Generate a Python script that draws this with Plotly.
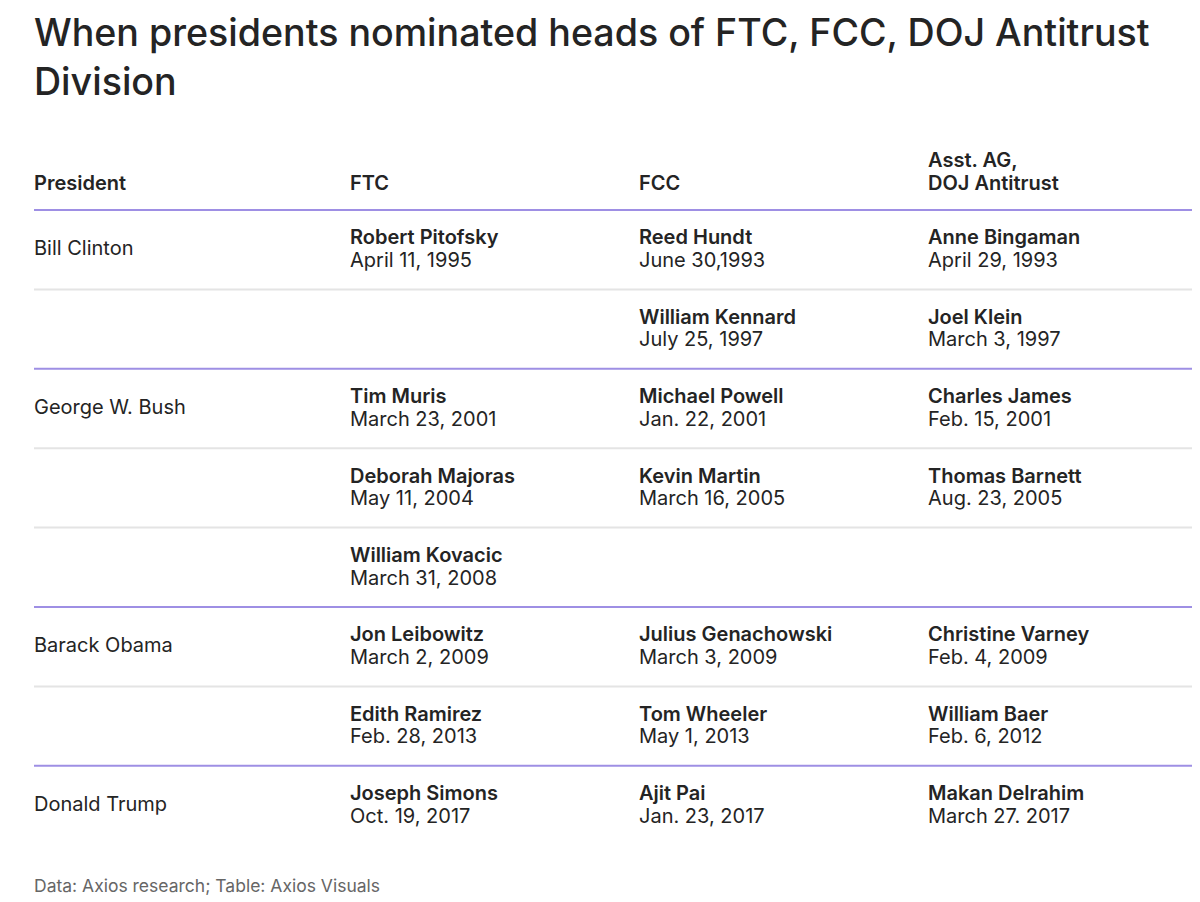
import plotly.graph_objects as go

# table content, one entry per table row
presidents = ["Bill Clinton", "", "George W. Bush", "", "", "Barack Obama", "", "Donald Trump"]
ftc_names = ["Robert Pitofsky", "", "Tim Muris", "Deborah Majoras", "William Kovacic",
             "Jon Leibowitz", "Edith Ramirez", "Joseph Simons"]
ftc_dates = ["April 11, 1995", "", "March 23, 2001", "May 11, 2004", "March 31, 2008",
             "March 2, 2009", "Feb. 28, 2013", "Oct. 19, 2017"]
fcc_names = ["Reed Hundt", "William Kennard", "Michael Powell", "Kevin Martin", "",
             "Julius Genachowski", "Tom Wheeler", "Ajit Pai"]
fcc_dates = ["June 30,1993", "July 25, 1997", "Jan. 22, 2001", "March 16, 2005", "",
             "March 3, 2009", "May 1, 2013", "Jan. 23, 2017"]
doj_names = ["Anne Bingaman", "Joel Klein", "Charles James", "Thomas Barnett", "",
             "Christine Varney", "William Baer", "Makan Delrahim"]
doj_dates = ["April 29, 1993", "March 3, 1997", "Feb. 15, 2001", "Aug. 23, 2005", "",
             "Feb. 4, 2009", "Feb. 6, 2012", "March 27. 2017"]
headers = ["President", "FTC", "FCC", "DOJ Antitrust"]
header_top = ["", "", "", "Asst. AG,"]

title = "When presidents nominated heads of FTC, FCC, DOJ Antitrust<br>Division"
source = "Data: Axios research; Table: Axios Visuals"

# layout
FONT = "Inter"
DARK = "#242424"
PURPLE = "#9e8fe4"
GREY = "#e4e4e4"
COL_X = [34, 350, 639, 928]   # left edge of each column (x axis = page pixels)
LINE_END = 1192
ROW_H = 79.4                   # pixels per row
HEAD_LINE = 210                # page pixel of the line under the header
PAGE_OFF = 8                   # default body margin of the html page
W, H = 1200 - PAGE_OFF, 902 - PAGE_OFF

n = len(presidents)
rows = list(range(n))

fig = go.Figure()


def add_col(x, y, text, size=20, weight=400):
    fig.add_trace(go.Scatter(
        x=[x] * len(text), y=y, text=text, mode="text",
        textposition="middle right",
        textfont=dict(family=FONT, size=size, color=DARK, weight=weight),
        hoverinfo="skip", showlegend=False))


add_col(COL_X[0], [r - 0.0 for r in rows], presidents)
for cx, names, dates in [(COL_X[1], ftc_names, ftc_dates),
                         (COL_X[2], fcc_names, fcc_dates),
                         (COL_X[3], doj_names, doj_dates)]:
    add_col(cx, [r - 0.13 for r in rows], names, weight=600)
    add_col(cx, [r + 0.155 for r in rows], dates)

# header row
add_col(COL_X[0], [-0.815] * 4, headers, weight=600)
add_col(COL_X[0], [-1.105] * 4, header_top, weight=600)
fig.data[-2].x = COL_X
fig.data[-1].x = COL_X

# row separators: purple where a new president starts, grey otherwise
fig.add_shape(type="line", xref="x", yref="y", x0=COL_X[0], x1=LINE_END, y0=-0.5, y1=-0.5,
              line=dict(color=PURPLE, width=2))
for r in rows[1:]:
    col = PURPLE if presidents[r] else GREY
    fig.add_shape(type="line", xref="x", yref="y", x0=COL_X[0], x1=LINE_END,
                  y0=r - 0.5, y1=r - 0.5, line=dict(color=col, width=2))

y_top = (PAGE_OFF - HEAD_LINE) / ROW_H - 0.5
y_bot = (902 - HEAD_LINE) / ROW_H - 0.5


def paper_y(py):
    return 1 - (py - PAGE_OFF) / H


fig.add_annotation(text=title, xref="x", yref="paper", x=32, y=paper_y(57),
                   xanchor="left", yanchor="middle", align="left", showarrow=False,
                   font=dict(family=FONT, size=37.6, color=DARK, weight=500))
fig.add_annotation(text=source, xref="x", yref="paper", x=32, y=paper_y(885),
                   xanchor="left", yanchor="middle", showarrow=False,
                   font=dict(family=FONT, size=17.5, color="#666666"))

fig.update_layout(
    width=W, height=H,
    margin=dict(l=0, r=0, t=0, b=0),
    paper_bgcolor="white", plot_bgcolor="white",
    xaxis=dict(range=[PAGE_OFF, 1200], visible=False, fixedrange=True),
    yaxis=dict(range=[y_bot, y_top], visible=False, fixedrange=True),
)

fig.write_html("out.html")
